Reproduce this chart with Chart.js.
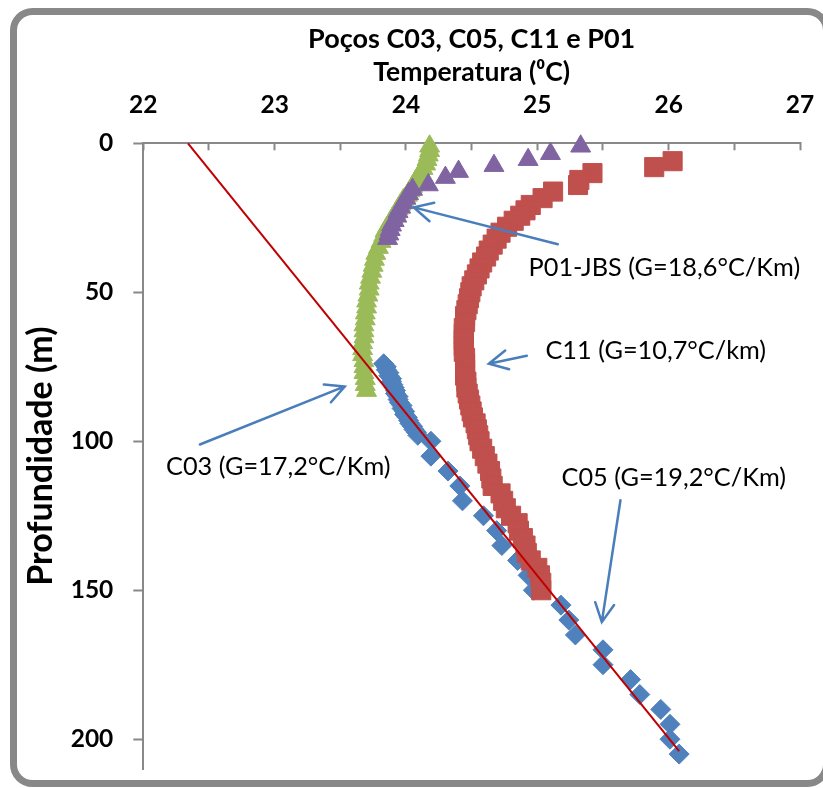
<!DOCTYPE html>
<html><head><meta charset="utf-8">
<script src="https://cdn.jsdelivr.net/npm/chart.js@4"></script>
<style>html,body{margin:0;padding:0;background:#fff}canvas{display:block}</style>
</head><body>
<canvas id="c" width="823" height="788"></canvas>
<script>
// ---- data (temperature °C, depth m) ----
const c05Depth = [74,75,76,77,78,79,80,81,82,83,84,85,86,87,88,89,90,91,92,93,94,95,96,97,98,
  100,105,110,115,120,125,130,135,140,145,150,155,160,165,170,175,180,185,190,195,200,205];
const c05Temp = [23.83,23.85,23.85,23.87,23.87,23.89,23.89,23.90,23.91,23.92,23.92,23.94,23.94,23.95,23.97,23.97,23.99,23.99,24.01,24.02,24.03,24.05,24.06,24.08,24.09,
  24.19,24.19,24.32,24.41,24.43,24.59,24.69,24.73,24.85,24.93,24.97,25.18,25.24,25.29,25.50,25.50,25.71,25.78,25.94,26.01,26.01,26.08];

const c11Depth = [6,8,10,12.3,14,16.2,18.4,20.7,22.5,24.3,
  26,28,30,32,34,36,38,40,42,44,46,48,50,52,54,56,58,60,62,64,66,68,70,72,74,76,78,80,82,84,86,88,90,92,94,96,98,100,
  102.5,105,107.5,110,112.5,115,117.5,120,122.5,125,127.5,130,132.5,135,137.5,140,142.5,145,147.5,150];
const c11Temp = [26.03,25.89,25.42,25.32,25.31,25.12,25.04,24.95,24.91,24.87,
  24.82,24.77,24.72,24.69,24.66,24.63,24.61,24.58,24.56,24.54,24.52,24.50,24.49,24.48,24.47,24.46,24.45,24.45,24.44,24.44,
  24.44,24.44,24.44,24.45,24.45,24.45,24.45,24.46,24.46,24.47,24.48,24.49,24.50,24.51,24.53,24.54,24.55,24.56,
  24.58,24.60,24.62,24.64,24.65,24.66,24.72,24.74,24.76,24.80,24.85,24.86,24.89,24.91,24.92,24.95,25.00,25.02,25.03,25.03];

const c03Depth = [1,2.5,4,5.5,7,8.5,10,11.5,13,14.5,16,17.5,19,20.5,22,23.5,25,26.5,28,29.5,31,
  33,35,37,39,41,43,45,47,49,51,53,55,57,59,61,63,65,67,69,71,73,75,77,79,81,83];
const c03Temp = [24.18,24.18,24.17,24.16,24.15,24.13,24.11,24.09,24.07,24.05,24.03,24.01,23.98,23.96,23.94,23.92,23.90,23.88,23.86,23.84,23.83,
  23.81,23.79,23.77,23.76,23.75,23.74,23.73,23.72,23.72,23.71,23.70,23.70,23.69,23.69,23.68,23.68,23.68,23.67,23.67,23.67,23.68,23.68,23.68,23.69,23.69,23.70];

const p01Depth = [1,3.5,5.5,7.5,9.5,11.5,14,15.5,17,18.5,20,21.5,23,24.5,26,27.5,29,30.5,32];
const p01Temp = [25.33,25.10,24.93,24.67,24.40,24.30,24.17,24.05,24.02,24.00,23.98,23.96,23.94,23.93,23.91,23.89,23.88,23.87,23.86];

// linear trend (C05)
const trendTemp = [22.34, 26.08];
const trendDepth = [0, 204];

// axes
const xMin = 22, xMax = 27, xStep = 0.5;
const yMin = 0, yMax = 210, yStep = 50;

const chartTitle = 'Poços C03, C05, C11 e P01';
const xTitle = 'Temperatura (\u2070C)';
const yTitle = 'Profundidade (m)';

// annotations (anchored in data units)
const notes = [
  {text:'P01-JBS (G=18,6°C/Km)', at:[24.933,44.7], from:[25.156,33.9], to:[24.059,21.5]},
  {text:'C11 (G=10,7°C/km)', at:[25.062,72.4], from:[24.920,71.3], to:[24.631,74.0]},
  {text:'C03 (G=17,2°C/Km)', at:[22.173,111.2], from:[22.431,101.1], to:[23.534,81.6]},
  {text:'C05 (G=19,2°C/Km)', at:[25.184,115.1], from:[25.633,119.8], to:[25.491,160.7]}
];

const pts = (t, d) => t.map((v, i) => ({x: v, y: d[i]}));

const framePlugin = {
  id: 'frame',
  beforeDraw(chart) {
    const ctx = chart.ctx;
    ctx.save();
    ctx.fillStyle = '#fff';
    ctx.fillRect(0, 0, chart.width, chart.height);
    ctx.strokeStyle = '#888888';
    ctx.lineWidth = 7;
    ctx.beginPath();
    ctx.roundRect(13.5, 11.5, 813, 772, 19);
    ctx.stroke();
    ctx.restore();
  },
  afterDraw(chart) {
    const ctx = chart.ctx, ca = chart.chartArea;
    ctx.save();
    ctx.fillStyle = '#000';
    ctx.font = 'bold 27px Lato';
    ctx.textAlign = 'center';
    ctx.textBaseline = 'alphabetic';
    ctx.fillText(chartTitle, (ca.left + ca.right) / 2, 48);
    ctx.restore();
  }
};

const notesPlugin = {
  id: 'notes',
  afterDatasetsDraw(chart) {
    const ctx = chart.ctx, xs = chart.scales.x, ys = chart.scales.y;
    const px = p => [xs.getPixelForValue(p[0]), ys.getPixelForValue(p[1])];
    ctx.save();
    notes.forEach(n => {
      const [x1, y1] = px(n.from), [x2, y2] = px(n.to);
      ctx.strokeStyle = '#4A7EBB';
      ctx.lineWidth = 2.5;
      ctx.lineCap = 'round';
      ctx.beginPath();
      ctx.moveTo(x1, y1); ctx.lineTo(x2, y2);
      const a = Math.atan2(y1 - y2, x1 - x2), L = 21, w = 27 * Math.PI / 180;
      ctx.moveTo(x2 + L * Math.cos(a + w), y2 + L * Math.sin(a + w));
      ctx.lineTo(x2, y2);
      ctx.lineTo(x2 + L * Math.cos(a - w), y2 + L * Math.sin(a - w));
      ctx.stroke();
      const [tx, ty] = px(n.at);
      ctx.fillStyle = '#000';
      ctx.font = '25.3px Lato';
      ctx.textAlign = 'left';
      ctx.textBaseline = 'alphabetic';
      ctx.fillText(n.text, tx, ty);
    });
    ctx.restore();
  }
};

function build() {
  Chart.defaults.font.family = 'Lato';
  Chart.defaults.color = '#000';
  new Chart(document.getElementById('c'), {
    type: 'scatter',
    data: {
      datasets: [
        {label: 'Tendência C05', data: pts(trendTemp, trendDepth), showLine: true, borderColor: '#C00000', borderWidth: 2, pointRadius: 0, order: 0, clip: false},
        {label: 'P01', data: pts(p01Temp, p01Depth), pointStyle: 'triangle', pointRadius: 11.5, backgroundColor: '#8064A2', borderColor: '#8064A2', borderWidth: 1, order: 1, clip: false},
        {label: 'C03', data: pts(c03Temp, c03Depth), pointStyle: 'triangle', pointRadius: 11.5, backgroundColor: '#9BBB59', borderColor: '#9BBB59', borderWidth: 1, order: 2, clip: false},
        {label: 'C11', data: pts(c11Temp, c11Depth), pointStyle: 'rect', pointRadius: 13.5, backgroundColor: '#C0504D', borderColor: '#C0504D', borderWidth: 1, order: 3, clip: false},
        {label: 'C05', data: pts(c05Temp, c05Depth), pointStyle: 'rectRot', pointRadius: 10, backgroundColor: '#4F81BD', borderColor: '#4F81BD', borderWidth: 1, order: 4, clip: false}
      ]
    },
    options: {
      responsive: false,
      animation: false,
      devicePixelRatio: 1,
      layout: {padding: {left: 10, right: 23, top: 0, bottom: 19}},
      plugins: {legend: {display: false}, tooltip: {enabled: false}, title: {display: false}},
      scales: {
        x: {
          type: 'linear', position: 'top', min: xMin, max: xMax,
          afterFit(s) { s.height = 143.3; s.paddingLeft = 0; s.paddingRight = 0; s.paddingTop = 0; s.paddingBottom = 0; },
          ticks: {stepSize: xStep, autoSkip: false, maxRotation: 0, padding: 31,
                  font: {size: 24.5, weight: 'bold'}, color: '#000',
                  callback: v => Number.isInteger(v) ? String(v) : ''},
          grid: {drawOnChartArea: false, drawTicks: true, tickLength: -7, tickWidth: 2, tickColor: '#888888'},
          border: {display: true, color: '#888888', width: 2},
          title: {display: true, text: xTitle, font: {size: 26.5, weight: 'bold'}, color: '#000', padding: {top: 57, bottom: 0}}
        },
        y: {
          type: 'linear', position: 'left', reverse: true, min: yMin, max: yMax,
          afterFit(s) { s.width = 133.3; s.paddingLeft = 0; s.paddingRight = 0; s.paddingTop = 0; s.paddingBottom = 0; },
          ticks: {stepSize: yStep, includeBounds: false, padding: 20, font: {size: 24.5, weight: 'bold'}, color: '#000'},
          grid: {drawOnChartArea: false, drawTicks: true, tickLength: 10, tickWidth: 2, tickColor: '#888888'},
          border: {display: true, color: '#888888', width: 2},
          title: {display: true, text: yTitle, font: {size: 34, weight: 'bold'}, color: '#000', padding: {top: 11, bottom: 0}}
        }
      }
    },
    plugins: [framePlugin, notesPlugin]
  });
}
if (document.fonts && document.fonts.load) {
  Promise.all([document.fonts.load('bold 24px Lato'), document.fonts.load('24px Lato')]).then(build, build);
} else { build(); }
</script>
</body></html>
